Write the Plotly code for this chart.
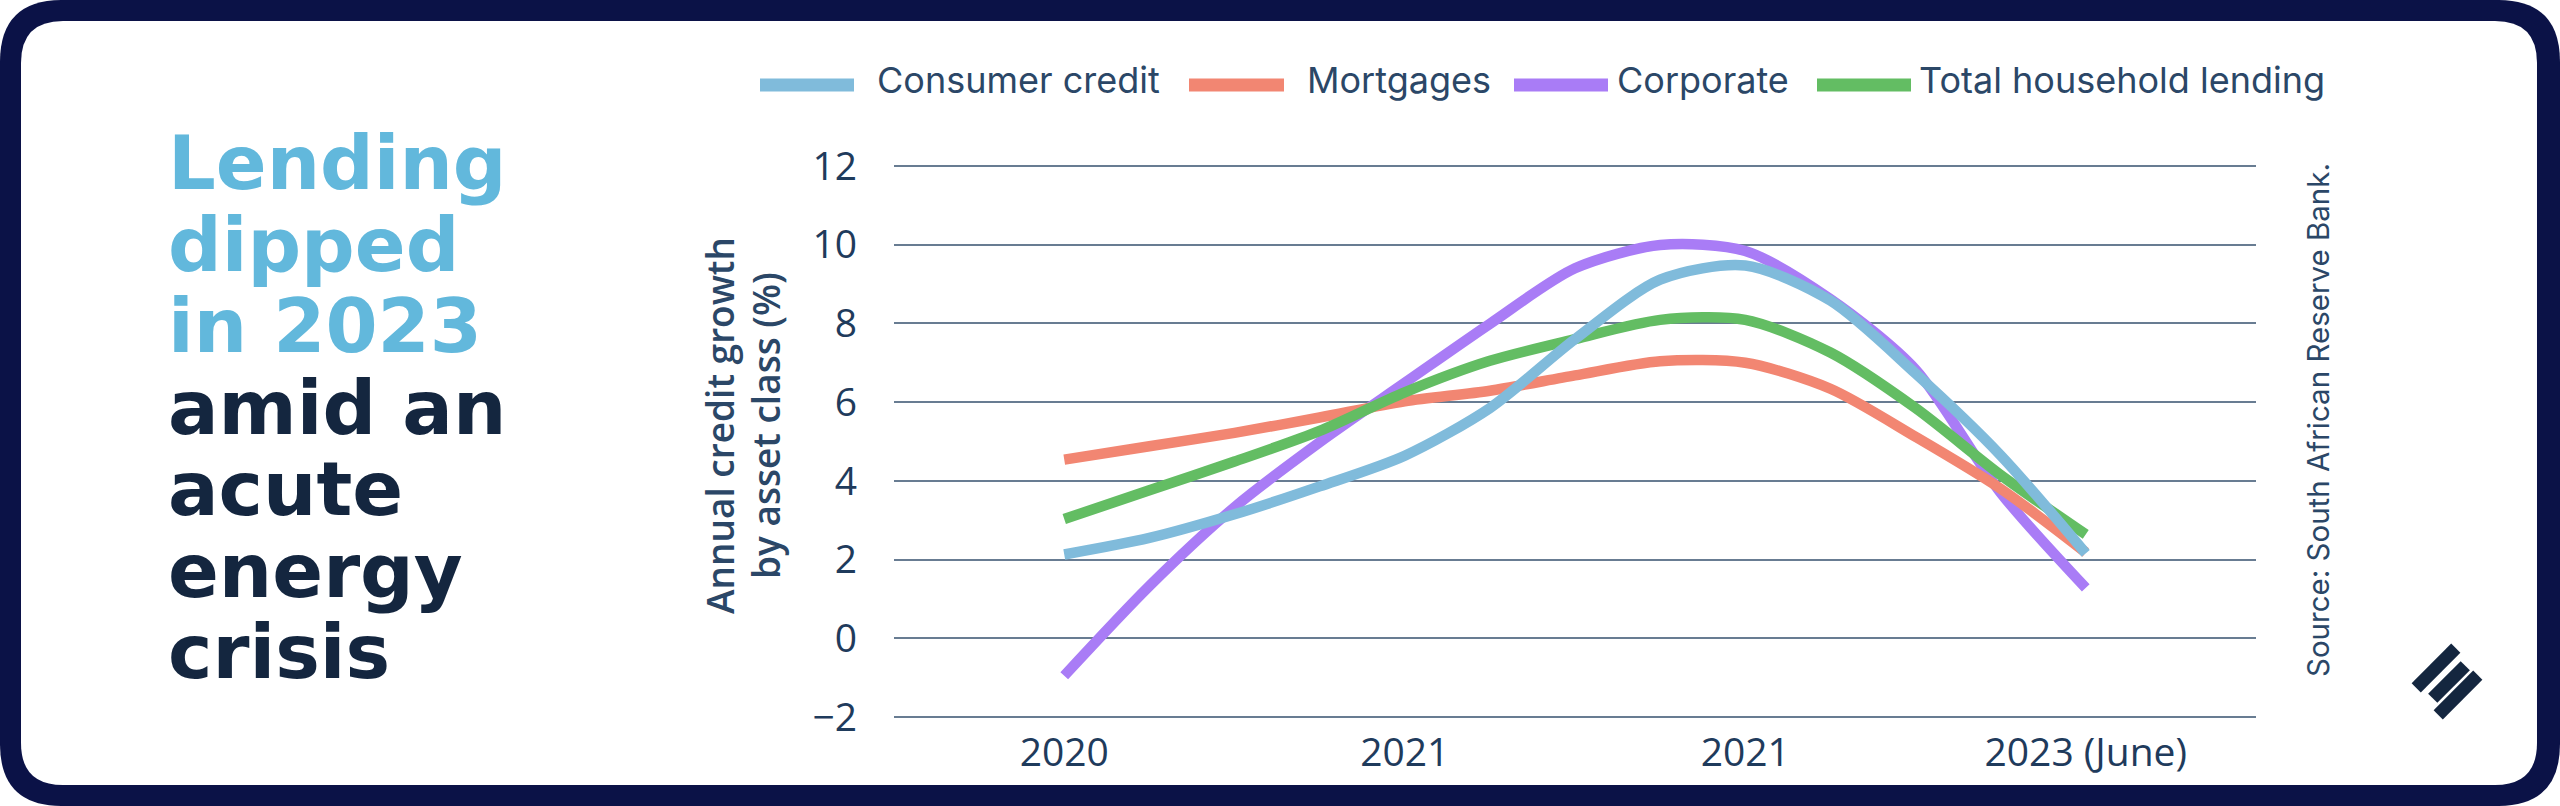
import plotly.graph_objects as go

# quarterly points, 2020 .. 2023 (June); tick labels sit on every 4th quarter
quarters = list(range(13))
tick_pos = [0, 4, 8, 12]
tick_labels = ["2020", "2021", "2021", "2023 (June)"]

consumer = [2.13, 2.55, 3.15, 3.86, 4.64, 5.85, 7.6, 9.11, 9.47, 8.58, 6.73, 4.65, 2.16]
mortgages = [4.54, 4.88, 5.22, 5.61, 6.02, 6.29, 6.68, 7.04, 7.0, 6.34, 5.12, 3.8, 2.18]
corporate = [-0.95, 1.33, 3.33, 4.98, 6.49, 7.99, 9.4, 9.99, 9.84, 8.62, 6.83, 3.7, 1.28]
total_household = [3.03, 3.76, 4.49, 5.27, 6.25, 7.05, 7.6, 8.09, 8.09, 7.26, 5.85, 4.15, 2.64]

series_names = ["Consumer credit", "Mortgages", "Corporate", "Total household lending"]
series_colors = ["#80bbdb", "#f28672", "#a97cf6", "#63bd63"]

title_lines = ["Lending", "dipped", "in 2023", "amid an", "acute", "energy", "crisis"]
y_title = ["Annual credit growth", "by asset class (%)"]
source = "Source: South African Reserve Bank."

W, H = 2560, 806
L, T, PW, PH = 894, 164, 1362, 555
NAVY = "#0b1247"
INK = "#14263f"
SLATE = "#2b4767"


def px_x(px):
    return (px - L) / PW


def px_y(py):
    return (T + PH - py) / PH


def rounded_rect(x0, y0, x1, y1, r):
    pts = [
        ("M", x0 + r, y0), ("L", x1 - r, y0), ("Q", x1, y0, x1, y0 + r),
        ("L", x1, y1 - r), ("Q", x1, y1, x1 - r, y1), ("L", x0 + r, y1),
        ("Q", x0, y1, x0, y1 - r), ("L", x0, y0 + r), ("Q", x0, y0, x0 + r, y0),
    ]
    out = []
    for p in pts:
        cmd, vals = p[0], p[1:]
        coords = []
        for i in range(0, len(vals), 2):
            coords.append(f"{px_x(vals[i]):.5f},{px_y(vals[i + 1]):.5f}")
        out.append(cmd + " ".join(coords))
    return " ".join(out) + " Z"


def bar_path(cx, cy, length, thick):
    # bar tilted 45 degrees, rising to the right
    d = (0.7071, -0.7071)
    n = (0.7071, 0.7071)
    hl, ht = length / 2, thick / 2
    corners = [
        (cx - d[0] * hl - n[0] * ht, cy - d[1] * hl - n[1] * ht),
        (cx + d[0] * hl - n[0] * ht, cy + d[1] * hl - n[1] * ht),
        (cx + d[0] * hl + n[0] * ht, cy + d[1] * hl + n[1] * ht),
        (cx - d[0] * hl + n[0] * ht, cy - d[1] * hl + n[1] * ht),
    ]
    return "M" + " L".join(f"{px_x(x):.5f},{px_y(y):.5f}" for x, y in corners) + " Z"


fig = go.Figure()

# drawing order: corporate at the bottom, consumer credit on top
values = dict(zip(series_names, [consumer, mortgages, corporate, total_household]))
colors = dict(zip(series_names, series_colors))
for name in ["Corporate", "Mortgages", "Total household lending", "Consumer credit"]:
    fig.add_trace(go.Scatter(
        x=quarters, y=values[name], name=name, mode="lines",
        line=dict(color=colors[name], width=10.5, shape="spline", smoothing=0.8),
        showlegend=False,
    ))

shapes = [
    dict(type="path", xref="paper", yref="paper", path=rounded_rect(0, 0, W, H, 62),
         fillcolor=NAVY, line=dict(width=0), layer="below"),
    dict(type="path", xref="paper", yref="paper", path=rounded_rect(21, 21, W - 23, H - 21, 42),
         fillcolor="white", line=dict(width=0), layer="below"),
]
# small logo bottom right
for cx, cy, ln in [(2436, 668, 56), (2449, 682, 46), (2458, 695, 56)]:
    shapes.append(dict(type="path", xref="paper", yref="paper", path=bar_path(cx, cy, ln, 13),
                       fillcolor=INK, line=dict(width=0)))

annotations = []

# hand-built legend to match the long flat swatches
legend_swatch = [(760, 854), (1189, 1284), (1514, 1608), (1817, 1911)]
legend_text_x = [875, 1305, 1615, 1917]
for name, (sx0, sx1), tx in zip(series_names, legend_swatch, legend_text_x):
    shapes.append(dict(type="line", xref="paper", yref="paper",
                       x0=px_x(sx0), x1=px_x(sx1), y0=px_y(85), y1=px_y(85),
                       line=dict(color=colors[name], width=13)))
    annotations.append(dict(xref="paper", yref="paper", x=px_x(tx), y=px_y(80),
                            xanchor="left", yanchor="middle", showarrow=False, text=name,
                            font=dict(family="Inter", size=36, color=SLATE)))

for i, line in enumerate(title_lines):
    annotations.append(dict(
        xref="paper", yref="paper", x=px_x(166), y=px_y(163 + 81.5 * i),
        xanchor="left", yanchor="middle", showarrow=False, text=line,
        font=dict(family="DejaVu Sans", size=75, weight="bold",
                  color="#62b8dc" if i < 3 else INK),
    ))

for i, line in enumerate(y_title):
    annotations.append(dict(
        xref="paper", yref="paper", x=px_x(719 + 46 * i), y=px_y(426),
        xanchor="center", yanchor="middle", showarrow=False, text=line, textangle=-90,
        font=dict(family="Open Sans", size=37, weight=600, color=SLATE),
    ))

annotations.append(dict(
    xref="paper", yref="paper", x=px_x(2318), y=px_y(420),
    xanchor="center", yanchor="middle", showarrow=False, text=source, textangle=-90,
    font=dict(family="Inter", size=29.5, color=SLATE),
))

fig.update_layout(
    width=W, height=H, autosize=False,
    margin=dict(l=L, r=W - L - PW, t=T, b=H - T - PH, pad=0),
    paper_bgcolor="white", plot_bgcolor="rgba(0,0,0,0)",
    shapes=shapes, annotations=annotations, showlegend=False,
    font=dict(family="Open Sans", color="#1f3b5c"),
)
fig.update_xaxes(
    range=[-2, 14], tickvals=tick_pos, ticktext=tick_labels,
    showgrid=False, zeroline=False, showline=False, ticks="",
    tickfont=dict(size=39, color="#1f3b5c"), ticklabelstandoff=7,
)
fig.update_yaxes(
    range=[-2.05, 12.05], tickvals=[-2, 0, 2, 4, 6, 8, 10, 12],
    showgrid=True, gridcolor="#687c92", gridwidth=1.6, zeroline=False, showline=False,
    ticks="", tickfont=dict(size=39, color="#1f3b5c"), ticklabelstandoff=36,
)

# the page body keeps its default 8px margin otherwise
fig.write_html("out.html", config={"displayModeBar": False},
               post_script="document.body.style.margin = '0';")
